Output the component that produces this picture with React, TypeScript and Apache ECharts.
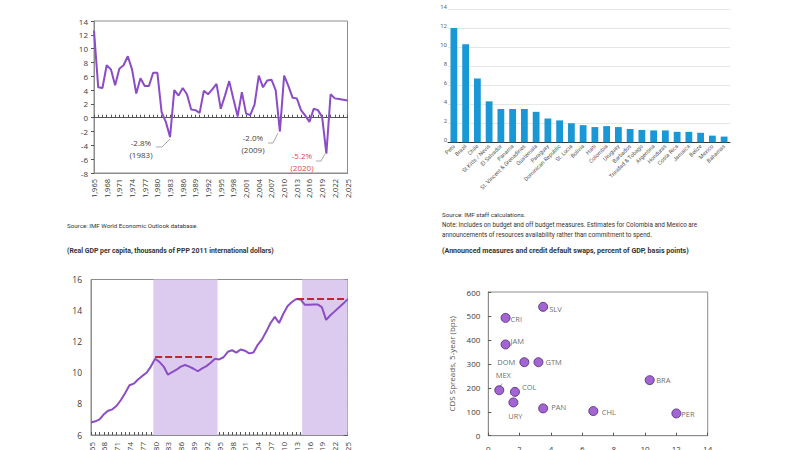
import React, { useEffect, useRef } from "react";
import * as echarts from "echarts";

// ---------- DATA ----------
const START_YEAR = 1965;
// Real GDP growth, percent (1965-2025)
const growthPct = [
  12.6, 4.4, 4.3, 7.6, 7.0, 4.7, 7.1, 7.6, 8.9, 7.0,
  3.5, 5.7, 4.6, 4.6, 6.5, 6.5, 0.8, -0.6, -2.8, 4.0,
  3.2, 4.3, 3.4, 1.2, 1.1, 0.7, 3.9, 3.4, 4.1, 4.9,
  1.3, 3.2, 5.3, 2.7, 0.2, 3.7, 0.6, 0.4, 1.9, 6.1,
  4.4, 5.4, 5.5, 4.0, -2.0, 6.1, 4.6, 2.9, 2.8, 1.1,
  0.3, -0.6, 1.3, 1.1, 0.1, -5.2, 3.4, 2.8, 2.7, 2.6,
  2.5,
];
// Real GDP per capita, thousands of PPP 2011 dollars (1965-2025)
const gdpPerCapita = [
  6.8, 6.88, 7.0, 7.33, 7.56, 7.65, 7.88, 8.25, 8.7, 9.2,
  9.3, 9.57, 9.8, 10.0, 10.4, 10.9, 10.7, 10.4, 9.88, 10.05,
  10.2, 10.4, 10.5, 10.4, 10.26, 10.1, 10.28, 10.43, 10.65, 10.9,
  10.86, 11.0, 11.35, 11.45, 11.3, 11.5, 11.42, 11.25, 11.3, 11.8,
  12.15, 12.65, 13.2, 13.6, 13.2, 13.8, 14.3, 14.55, 14.75, 14.72,
  14.38, 14.38, 14.4, 14.4, 14.22, 13.4, 13.7, 13.95, 14.2, 14.45,
  14.72,
];
const crisisPeriods = [
  [1979.6, 1994.6],
  [2014.4, 2025],
];
const prePeakLines = [
  { from: 1980, to: 1994, value: 11.03 },
  { from: 2013.2, to: 2025, value: 14.76 },
];
const growthNotes = [
  { text: "-2.8%", year: "(1983)" },
  { text: "-2.0%", year: "(2009)" },
  { text: "-5.2%", year: "(2020)" },
];

// Announced fiscal measures, percent of GDP
const countries = [
  "Peru", "Brazil", "Chile", "St Kitts / Nevis", "El Salvador", "Panama",
  "St. Vincent & Grenadines", "Guatemala", "Paraguay", "Dominican Republic",
  "St. Lucia", "Bolivia", "Haiti", "Colombia", "Uruguay", "Barbados",
  "Trinidad & Tobago", "Argentina", "Honduras", "Costa Rica", "Jamaica",
  "Belize", "Mexico", "Bahamas",
];
const measures = [
  12.0, 10.3, 6.7, 4.3, 3.5, 3.5, 3.5, 3.2, 2.5, 2.3, 2.0, 1.8,
  1.6, 1.7, 1.6, 1.4, 1.3, 1.25, 1.25, 1.1, 1.1, 1.0, 0.7, 0.6,
];

// Scatter: measures (x) vs CDS spreads (y)
const codes = ["SLV", "CRI", "JAM", "DOM", "GTM", "MEX", "COL", "URY", "PAN", "CHL", "BRA", "PER"];
const scatterX = [3.5, 1.1, 1.1, 2.3, 3.2, 0.7, 1.7, 1.6, 3.5, 6.7, 10.3, 12.0];
const cdsBps = [538, 492, 381, 307, 307, 190, 183, 139, 114, 103, 232, 93];

// ---------- STYLE ----------
const PURPLE = "#8c4cc6";
const BORDER = "#8c8c8c";
const TXT = "#3a3a3a";
const AXFONT = "Open Sans";
const labelStyle: Record<string, any> = {
  SLV: { position: "right", offset: [0, 2] },
  CRI: { position: "right", offset: [-1, 1] },
  JAM: { position: "right", offset: [-1, -3] },
  DOM: { position: "left", offset: [-3, 0] },
  GTM: { position: "right", offset: [1, 0] },
  MEX: { position: "top", offset: [4, -5] },
  COL: { position: "right", offset: [1, -5] },
  URY: { position: "bottom", offset: [2, 4] },
  PAN: { position: "right", offset: [2, -1.5] },
  CHL: { position: "right", offset: [2.5, 1] },
  BRA: { position: "right", offset: [0.5, 0] },
  PER: { position: "right", offset: [-1, 1] },
};

const toPairs = (arr: number[]) => arr.map((v, i) => [START_YEAR + i, v]);

export default function App() {
  const ref = useRef<HTMLDivElement>(null);
  useEffect(() => {
    if (!ref.current) return;
    const chart = echarts.init(ref.current, undefined, { renderer: "svg" });

    const noteColor = ["#444", "#444", "#e0474c"];
    const notePos = [
      { x: 141, y1: 142, y2: 154, line: [[156, 147], [162, 147], [170, 139]] },
      { x: 253, y1: 137, y2: 149, line: [[268, 143], [273, 143], [278, 133]] },
      { x: 302, y1: 155, y2: 167, line: [[316, 161], [321, 161], [325, 154]] },
    ];
    const graphics: any[] = [];
    growthNotes.forEach((n, i) => {
      const p = notePos[i];
      graphics.push(
        { type: "text", x: p.x, y: p.y1, style: { text: n.text, fontSize: 8, fontFamily: AXFONT, fill: noteColor[i], align: "center", verticalAlign: "middle" } },
        { type: "text", x: p.x, y: p.y2, style: { text: n.year, fontSize: 8, fontFamily: AXFONT, fill: noteColor[i], align: "center", verticalAlign: "middle" } },
        { type: "polyline", shape: { points: p.line }, style: { stroke: "#aaaaaa", lineWidth: 1, fill: "none" } }
      );
    });
    const txt = (x: number, y: number, text: string, bold = false, size = 6.2) => ({
      type: "text", x, y,
      style: { text, fontSize: size, fontFamily: "Roboto", fontWeight: bold ? "bold" : "normal", fill: "#333", verticalAlign: "middle" },
    });
    graphics.push(
      txt(67, 226, "Source: IMF World Economic Outlook database."),
      txt(67, 251, "(Real GDP per capita, thousands of PPP 2011 international dollars)", true, 6.9),
      txt(442, 215, "Source: IMF staff calculations."),
      txt(442, 225, "Note: Includes on budget and off budget measures. Estimates for Colombia and Mexico are", false, 6.3),
      txt(442, 234.5, "announcements of resources availability rather than commitment to spend.", false, 6.3),
      txt(442, 250, "(Announced measures and credit default swaps, percent of GDP, basis points)", true, 7.1),
      { type: "line", shape: { x1: 502, y1: 383.5, x2: 499.5, y2: 387.5 }, style: { stroke: "#888", lineWidth: 0.8 } }
    );

    const yearLabel = { rotate: 90, fontSize: 7.5, color: TXT, fontFamily: AXFONT };
    const gridBase = { outerBoundsMode: "none", containLabel: false };

    chart.setOption({
      animation: false,
      backgroundColor: "#ffffff",
      textStyle: { fontFamily: AXFONT },
      grid: [
        { ...gridBase, left: 94, top: 21, width: 253.5, height: 152, show: true, borderColor: BORDER, borderWidth: 1, backgroundColor: "transparent" },
        { ...gridBase, left: 91, top: 279.5, width: 256.5, height: 155.5, show: true, borderColor: BORDER, borderWidth: 1, backgroundColor: "transparent" },
        { ...gridBase, left: 448, top: 9, width: 282, height: 133.3 },
        { ...gridBase, left: 488.3, top: 292, width: 219.4, height: 143.7, show: true, borderColor: BORDER, borderWidth: 1, backgroundColor: "transparent" },
      ],
      xAxis: [
        { gridIndex: 0, type: "value", min: 1965, max: 2025, interval: 3, position: "bottom",
          axisLine: { onZero: false, lineStyle: { color: BORDER } }, axisTick: { show: false },
          axisLabel: { ...yearLabel, margin: 6 }, splitLine: { show: false } },
        { gridIndex: 0, type: "value", min: 1965, max: 2025, interval: 1, position: "top",
          axisLine: { onZero: true, lineStyle: { color: "#555" } },
          axisTick: { show: true, inside: false, length: 3, lineStyle: { color: "#555" } },
          axisLabel: { show: false }, splitLine: { show: false } },
        { gridIndex: 1, type: "value", min: 1965, max: 2025, interval: 1, position: "bottom",
          axisLine: { onZero: false, lineStyle: { color: BORDER } },
          axisTick: { show: true, inside: true, length: 3, lineStyle: { color: "#555" } },
          axisLabel: { ...yearLabel, fontSize: 8, margin: 7, formatter: (v: number) => ((v - START_YEAR) % 3 === 0 ? String(v) : "") },
          splitLine: { show: false } },
        { gridIndex: 2, type: "category", data: countries,
          axisLine: { lineStyle: { color: "#333" } }, axisTick: { show: false },
          axisLabel: { rotate: 45, interval: 0, fontSize: 5.6, color: "#555", margin: 3, fontFamily: "Roboto" } },
        { gridIndex: 3, type: "value", min: 0, max: 14, interval: 2,
          axisLine: { onZero: false, lineStyle: { color: BORDER } },
          axisTick: { show: true, inside: true, length: 3, lineStyle: { color: "#555" } },
          axisLabel: { fontSize: 8, color: TXT, margin: 9 }, splitLine: { show: false } },
      ],
      yAxis: [
        { gridIndex: 0, type: "value", min: -8, max: 14, interval: 2,
          axisLine: { show: true, onZero: false, lineStyle: { color: BORDER } },
          axisTick: { show: true, length: 3, lineStyle: { color: "#555" } },
          axisLabel: { fontSize: 8, color: TXT, margin: 6 }, splitLine: { show: false } },
        { gridIndex: 1, type: "value", min: 6, max: 16, interval: 2,
          axisLine: { show: true, onZero: false, lineStyle: { color: BORDER } },
          axisTick: { show: false },
          axisLabel: { fontSize: 8.5, color: TXT, margin: 9 }, splitLine: { show: false } },
        { gridIndex: 1, type: "value", min: 6, max: 16, interval: 2, position: "right",
          axisLine: { show: true, onZero: false, lineStyle: { color: BORDER } },
          axisTick: { show: true, inside: true, length: 4, lineStyle: { color: "#555" } },
          axisLabel: { show: false }, splitLine: { show: false } },
        { gridIndex: 2, type: "value", min: 0, max: 14, interval: 2,
          axisLine: { show: false }, axisTick: { show: false },
          axisLabel: { fontSize: 6, color: "#666", margin: 1, verticalAlign: "bottom", fontFamily: "Roboto" },
          splitLine: { lineStyle: { color: "#e6e6e6" } } },
        { gridIndex: 3, type: "value", min: 0, max: 600, interval: 100,
          name: "CDS Spreads, 5-year (bps)", nameLocation: "middle", nameGap: 33, nameRotate: 90,
          nameTextStyle: { fontSize: 8, color: "#555" },
          axisLine: { show: true, onZero: false, lineStyle: { color: BORDER } },
          axisTick: { show: true, inside: true, length: 3, lineStyle: { color: "#555" } },
          axisLabel: { fontSize: 8, color: TXT, margin: 8 }, splitLine: { show: false } },
      ],
      series: [
        { type: "line", xAxisIndex: 0, yAxisIndex: 0, data: toPairs(growthPct), showSymbol: false,
          lineStyle: { color: PURPLE, width: 2 }, itemStyle: { color: PURPLE } },
        { type: "line", xAxisIndex: 2, yAxisIndex: 1, data: toPairs(gdpPerCapita), showSymbol: false,
          lineStyle: { color: PURPLE, width: 2 }, itemStyle: { color: PURPLE },
          markArea: { silent: true, itemStyle: { color: "#dccbee" },
            data: crisisPeriods.map(([a, b]) => [{ xAxis: a }, { xAxis: b }]) },
          markLine: { silent: true, symbol: "none", label: { show: false },
            lineStyle: { color: "#c0272d", type: [7, 3], width: 2 },
            data: prePeakLines.map((l) => [{ coord: [l.from, l.value] }, { coord: [l.to, l.value] }]) } },
        { type: "bar", xAxisIndex: 3, yAxisIndex: 3, data: measures, barWidth: 6.8,
          itemStyle: { color: "#1a98d5" } },
        { type: "scatter", xAxisIndex: 4, yAxisIndex: 4, symbolSize: 9,
          itemStyle: { color: "#8b3fc8", borderColor: "#4a2470", borderWidth: 1 },
          data: codes.map((c, i) => ({
            value: [scatterX[i], cdsBps[i]],
            label: { show: true, formatter: c, distance: 1, fontSize: 7.5, color: "#444", ...labelStyle[c] },
          })) },
      ],
      graphic: graphics,
    });
    return () => chart.dispose();
  }, []);
  return <div ref={ref} style={{ position: "absolute", left: 0, top: 0, width: 800, height: 450 }} />;
}
